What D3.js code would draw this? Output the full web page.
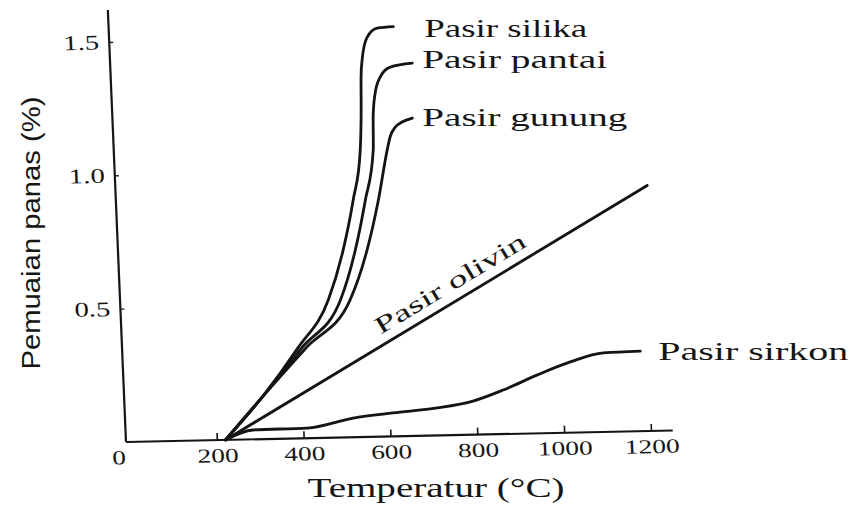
<!DOCTYPE html>
<html>
<head>
<meta charset="utf-8">
<script src="https://cdn.jsdelivr.net/npm/d3@7/dist/d3.min.js"></script>
<style>
    body { margin: 0; background: #fff; }
    svg { display: block; }
    text { fill: #161616; }
</style>
</head>
<body>
<svg id="chart" width="851" height="505"></svg>
<script>
// ticks
const xTicks = [0, 200, 400, 600, 800, 1000, 1200];
const yTicks = [0.5, 1.0, 1.5];

// [temperature (C), expansion (%)]
const silika = [[220, 0], [310, 0.16], [396, 0.34], [470, 0.516], [509, 0.702], [537, 0.889],
    [558, 1.075], [564, 1.225], [567, 1.349], [571, 1.412], [585, 1.498], [609, 1.531], [646, 1.535]];
const pantai = [[220, 0], [310, 0.16], [405, 0.34], [498, 0.515], [537, 0.701], [565, 0.888],
    [588, 1.075], [591, 1.198], [598, 1.288], [611, 1.347], [635, 1.384], [686, 1.397]];
const gunung = [[220, 0], [310, 0.16], [415, 0.34], [520, 0.514], [564, 0.70], [595, 0.887],
    [620, 1.073], [628, 1.122], [641, 1.159], [657, 1.177], [681, 1.191]];
const olivin = [[220, 0], [1215, 0.92]];
const sirkon = [[220, 0], [284, 0.035], [409, 0.038], [516, 0.072], [608, 0.088], [710, 0.103],
    [787, 0.123], [864, 0.165], [944, 0.219], [1021, 0.265], [1098, 0.296], [1183, 0.30]];

const seriesNames = ["Pasir silika", "Pasir pantai", "Pasir gunung", "Pasir sirkon"];
const seriesData = [silika, pantai, gunung, sirkon];
const olivinName = "Pasir olivin";

const svg = d3.select("#chart");
const ink = "#141414";
const serif = "'Liberation Serif', 'Times New Roman', serif";

// the scan is slightly skewed, so the plot sits in a sheared frame
const skew = {b: -0.021, c: 0.042, ox: 126, oy: 442};
const toScreen = (lx, ly) => [skew.ox + lx + skew.c * ly, skew.oy + skew.b * lx + ly];

const x = d3.scaleLinear().domain([0, 1200]).range([4, 525]);
const y = d3.scaleLinear().domain([0, 1.5]).range([0, -400]);

const plot = svg.append("g")
    .attr("transform", `matrix(1, ${skew.b}, ${skew.c}, 1, ${skew.ox}, ${skew.oy})`);

// axis lines
plot.append("line")
    .attr("x1", 0).attr("y1", 0)
    .attr("x2", x(1250)).attr("y2", 0)
    .attr("stroke", ink).attr("stroke-width", 2.2);
plot.append("line")
    .attr("x1", 0).attr("y1", 0)
    .attr("x2", 0).attr("y2", y(1.62))
    .attr("stroke", ink).attr("stroke-width", 2.2);

const xAxis = plot.append("g")
    .call(d3.axisBottom(x).tickValues(xTicks).tickSize(-7).tickSizeOuter(0).tickPadding(8)
        .tickFormat(d3.format("d")));
xAxis.select(".domain").remove();
xAxis.selectAll(".tick line").attr("stroke", ink).attr("stroke-width", 1.6);
xAxis.selectAll(".tick text")
    .attr("font-family", serif)
    .attr("font-size", 20)
    .attr("fill", ink)
    .attr("textLength", d => String(d).length === 4 ? 55 : String(d).length * 13.7)
    .attr("lengthAdjust", "spacingAndGlyphs");
xAxis.selectAll(".tick").filter(d => d === 0).select("line").remove();
xAxis.selectAll(".tick").filter(d => d === 0).select("text").attr("dx", -12);

const yAxis = plot.append("g")
    .call(d3.axisLeft(y).tickValues(yTicks).tickSize(-4).tickSizeOuter(0).tickPadding(10)
        .tickFormat(d3.format(".1f")));
yAxis.select(".domain").remove();
yAxis.selectAll(".tick line").attr("stroke", ink).attr("stroke-width", 1.4);
yAxis.selectAll(".tick text")
    .attr("font-family", serif)
    .attr("font-size", 21)
    .attr("fill", ink)
    .attr("textLength", 36)
    .attr("lengthAdjust", "spacingAndGlyphs");

// curves
const line = d3.line()
    .x(d => x(d[0]))
    .y(d => y(d[1]))
    .curve(d3.curveMonotoneX);

plot.selectAll(".curve")
    .data(seriesData.concat([olivin]))
    .join("path")
    .attr("class", "curve")
    .attr("d", line)
    .attr("fill", "none")
    .attr("stroke", ink)
    .attr("stroke-width", 2.8)
    .attr("stroke-linecap", "round");

// series labels next to the curve ends (screen offsets)
const labelLayout = {
    "Pasir silika": {dx: 31, dy: 10, len: 163},
    "Pasir pantai": {dx: 10, dy: 5, len: 185},
    "Pasir gunung": {dx: 10, dy: 8, len: 205},
    "Pasir sirkon": {dx: 18, dy: 9, len: 190}
};

seriesNames.forEach((name, i) => {
    const last = seriesData[i][seriesData[i].length - 1];
    const p = toScreen(x(last[0]), y(last[1]));
    const lay = labelLayout[name];
    svg.append("text")
        .attr("x", p[0] + lay.dx)
        .attr("y", p[1] + lay.dy)
        .attr("font-family", serif)
        .attr("font-size", 26)
        .attr("textLength", lay.len)
        .attr("lengthAdjust", "spacingAndGlyphs")
        .text(name);
});

// olivin label runs along its line
const o0 = toScreen(x(olivin[0][0]), y(olivin[0][1]));
const o1 = toScreen(x(olivin[1][0]), y(olivin[1][1]));
const ang = Math.atan2(o1[1] - o0[1], o1[0] - o0[0]);
const t = 0.38;
const ox = o0[0] + (o1[0] - o0[0]) * t + Math.sin(ang) * 10;
const oy = o0[1] + (o1[1] - o0[1]) * t - Math.cos(ang) * 10;
svg.append("text")
    .attr("transform", `translate(${ox},${oy}) rotate(${ang * 180 / Math.PI})`)
    .attr("font-family", serif)
    .attr("font-size", 24)
    .attr("textLength", 172)
    .attr("lengthAdjust", "spacingAndGlyphs")
    .text(olivinName);

// axis titles
svg.append("text")
    .attr("x", 436)
    .attr("y", 497)
    .attr("text-anchor", "middle")
    .attr("font-family", serif)
    .attr("font-size", 28)
    .attr("textLength", 257)
    .attr("lengthAdjust", "spacingAndGlyphs")
    .text("Temperatur (°C)");

svg.append("text")
    .attr("transform", "translate(40,233) rotate(-90)")
    .attr("text-anchor", "middle")
    .attr("font-family", "'Liberation Sans', Arial, sans-serif")
    .attr("font-size", 25)
    .attr("textLength", 273)
    .attr("lengthAdjust", "spacingAndGlyphs")
    .text("Pemuaian panas (%)");
</script>
</body>
</html>
